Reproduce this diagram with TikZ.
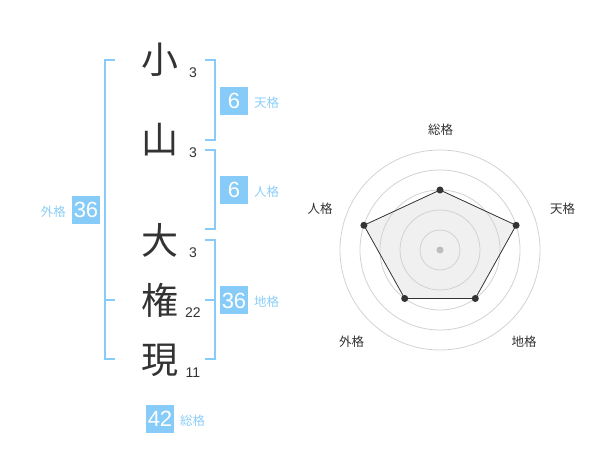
\documentclass[tikz,border=0pt]{standalone}
\usepackage{fontspec}
\setmainfont{Liberation Sans}
\newfontfamily\cjk{Noto Sans CJK JP}
\definecolor{sky}{RGB}{135,204,248}
\definecolor{skytext}{RGB}{140,206,248}
\definecolor{ink}{RGB}{51,51,51}
\definecolor{ring}{RGB}{210,210,210}
\definecolor{area}{RGB}{240,240,240}
\begin{document}
\begin{tikzpicture}[x=1pt,y=-1pt,
  kanji/.style={font=\cjk\fontsize{37}{37}\selectfont, text=ink, inner sep=0},
  strokes/.style={font=\fontsize{14}{14}\selectfont, text=ink, inner sep=0},
  valbox/.style={fill=sky, text=white, minimum width=28, minimum height=28, inner sep=0, font=\fontsize{22}{22}\selectfont},
  kaku/.style={font=\cjk\fontsize{12.5}{12.5}\selectfont, text=skytext, inner sep=0},
  brk/.style={draw=sky, line width=2},
  rlabel/.style={font=\cjk\fontsize{12.5}{12.5}\selectfont, text=ink, inner sep=0},
  ringc/.style={draw=ring, line width=0.8},
  dot/.style={circle, fill=ink, inner sep=0, minimum size=7}
]
\useasboundingbox (0,0) rectangle (600,470);
% characters
\node[kanji] (c1) at (160,60) {小};
\node[kanji] (c2) at (160,140) {山};
\node[kanji] (c3) at (160,240) {大};
\node[kanji] (c4) at (160,300) {権};
\node[kanji] (c5) at (160,360) {現};
\node[strokes] (s1) at (193,73) {3};
\node[strokes] (s2) at (193,153) {3};
\node[strokes] (s3) at (193,253) {3};
\node[strokes] (s4) at (193,313) {22};
\node[strokes] (s5) at (193,373) {11};
% brackets
\coordinate (L1) at (115,60); \coordinate (L2) at (105,60);
\coordinate (L3) at (105,359); \coordinate (L4) at (115,359);
\coordinate (Lm1) at (105,300); \coordinate (Lm2) at (115,300);
\draw[brk] (L1) -- (L2) -- (L3) -- (L4);
\draw[brk] (Lm1) -- (Lm2);
\coordinate (T1) at (205,60); \coordinate (T2) at (215,60);
\coordinate (T3) at (215,140); \coordinate (T4) at (205,140);
\draw[brk] (T1) -- (T2) -- (T3) -- (T4);
\coordinate (J1) at (205,150); \coordinate (J2) at (215,150);
\coordinate (J3) at (215,229); \coordinate (J4) at (205,229);
\draw[brk] (J1) -- (J2) -- (J3) -- (J4);
\coordinate (C1) at (205,240); \coordinate (C2) at (215,240);
\coordinate (C3) at (215,359); \coordinate (C4) at (205,359);
\coordinate (Cm1) at (205,300); \coordinate (Cm2) at (215,300);
\draw[brk] (C1) -- (C2) -- (C3) -- (C4);
\draw[brk] (Cm1) -- (Cm2);
% value boxes
\node[valbox] (ten) at (234,101) {6};
\node[kaku, anchor=west] (tenl) at (254,103) {天格};
\node[valbox] (jin) at (234,190) {6};
\node[kaku, anchor=west] (jinl) at (254,192) {人格};
\node[valbox] (chi) at (234,300.5) {36};
\node[kaku, anchor=west] (chil) at (254,302) {地格};
\node[valbox] (gai) at (86,210) {36};
\node[kaku, anchor=east] (gail) at (66,212) {外格};
\node[valbox] (sou) at (160,419) {42};
\node[kaku, anchor=west] (soul) at (180,421) {総格};
% radar
\coordinate (O) at (440,250);
\coordinate (p1) at (440,190);
\coordinate (p2) at (516.1,225.3);
\coordinate (p3) at (475.3,298.5);
\coordinate (p4) at (404.7,298.5);
\coordinate (p5) at (363.9,225.3);
\fill[area] (p1) -- (p2) -- (p3) -- (p4) -- (p5) -- cycle;
\foreach \r in {20,40,60,80,100} \draw[ringc] (O) circle[radius=\r];
\draw[draw=ink, line width=0.8] (p1) -- (p2) -- (p3) -- (p4) -- (p5) -- cycle;
\fill[ring!90!black] (O) circle[radius=3.5];
\foreach \p in {p1,p2,p3,p4,p5} \node[dot] at (\p) {};
\node[rlabel] (r1) at (440.7,130) {総格};
\node[rlabel] (r2) at (562.7,208.3) {天格};
\node[rlabel] (r3) at (524,341.7) {地格};
\node[rlabel] (r4) at (351.7,341.7) {外格};
\node[rlabel] (r5) at (320,208.3) {人格};
\end{tikzpicture}
\end{document}
